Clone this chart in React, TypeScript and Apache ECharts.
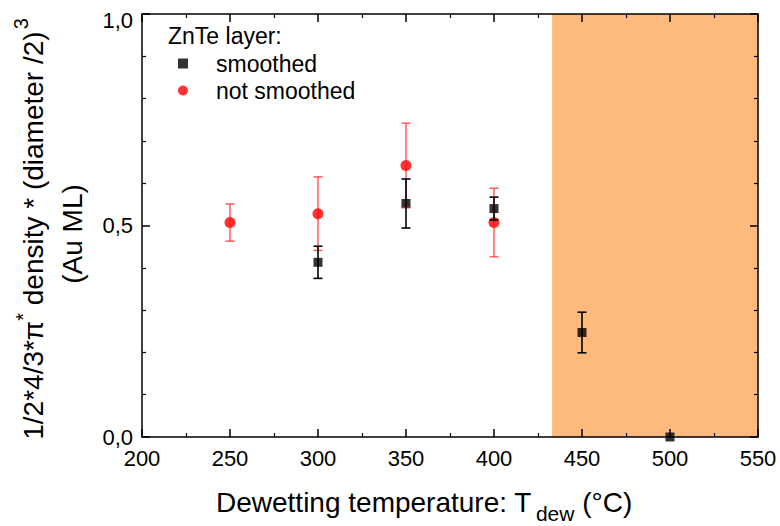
import React, { useEffect, useRef } from 'react';
import * as echarts from 'echarts';

// ---- data ----
const smoothedX = [300, 350, 400, 450, 500];
const smoothedY = [0.413, 0.552, 0.54, 0.247, 0.0];
const smoothedErr = [0.038, 0.058, 0.027, 0.048, 0];

const notSmoothedX = [250, 300, 350, 400];
const notSmoothedY = [0.507, 0.528, 0.642, 0.507];
const notSmoothedErr = [0.044, 0.087, 0.1, 0.081];

const shadedFrom = 433;
const shadedTo = 550;

const xMin = 200, xMax = 550, xInterval = 50;
const yMin = 0, yMax = 1, yInterval = 0.5;

const legendTitle = 'ZnTe layer:';
const seriesNames = ['smoothed', 'not smoothed'];

const FONT = '"Liberation Sans", Arial, Helvetica, sans-serif';

function textWidth(t: string, size: number): number {
  const c = document.createElement('canvas').getContext('2d');
  if (!c) return t.length * size * 0.55;
  c.font = `${size}px "Liberation Sans", Arial, sans-serif`;
  return c.measureText(t).width;
}

function errRender(color: string, lw: number) {
  return (params: any, api: any) => {
    const x = api.value(0), lo = api.value(1), hi = api.value(2);
    if (hi === lo) return { type: 'group', children: [] };
    const a = api.coord([x, hi]);
    const b = api.coord([x, lo]);
    const hw = 4.5;
    const st = { stroke: color, lineWidth: lw };
    return {
      type: 'group',
      children: [
        { type: 'line', shape: { x1: a[0], y1: a[1], x2: b[0], y2: b[1] }, style: st },
        { type: 'line', shape: { x1: a[0] - hw, y1: a[1], x2: a[0] + hw, y2: a[1] }, style: st },
        { type: 'line', shape: { x1: b[0] - hw, y1: b[1], x2: b[0] + hw, y2: b[1] }, style: st },
      ],
    };
  };
}

export default function App() {
  const ref = useRef<HTMLDivElement>(null);
  useEffect(() => {
    if (!ref.current) return;
    const chart = echarts.init(ref.current, undefined, { renderer: 'svg' });

    const axisCommon = {
      type: 'value' as const,
      axisLine: { show: true, onZero: false, lineStyle: { color: '#000', width: 1.5 } },
      axisTick: { show: true, inside: true, length: 8, lineStyle: { color: '#000', width: 1.5 } },
      minorTick: { show: true, length: 4, lineStyle: { color: '#000', width: 1.2 } },
      splitLine: { show: false },
      minorSplitLine: { show: false },
      z: 10,
    };

    // x-axis title pieces
    const xs = 28, xsSub = 21;
    const xT1 = 'Dewetting temperature: T';
    const xT2 = 'dew';
    const xT3 = ' (°C)';
    const xLeft = 216;
    const xBase = 512;
    const w1 = textWidth(xT1, xs);
    const w2 = textWidth(xT2, xsSub);

    // y-axis title pieces
    const ys = 28, ysSup = 20;
    const yA = '1/2*4/3*π';
    const yB = '*';
    const yC = ' density * (diameter /2)';
    const yD = '3';
    const wA = textWidth(yA, ys), wB = textWidth(yB, ysSup), wC = textWidth(yC, ys), wD = textWidth(yD, ysSup);
    const wTot = wA + wB + wC + wD + 2;
    const y0 = -wTot / 2;

    const mid = (base: number, size: number) => base - 0.35 * size;
    const txt = (x: number, base: number, text: string, size: number) => ({
      type: 'text', x, y: mid(base, size),
      style: { text, fontSize: size, fontFamily: FONT, fill: '#000', align: 'left', verticalAlign: 'middle' },
    });

    const option: any = {
      animation: false,
      backgroundColor: '#fff',
      grid: { left: 142, right: 22, top: 14, bottom: 89, containLabel: false },
      xAxis: [
        {
          ...axisCommon, position: 'bottom', min: xMin, max: xMax, interval: xInterval,
          minorTick: { ...axisCommon.minorTick, splitNumber: 2 },
          axisLabel: { show: true, fontSize: 22, fontFamily: FONT, color: '#000', margin: 10 },
        },
        {
          ...axisCommon, position: 'top', min: xMin, max: xMax, interval: xInterval,
          minorTick: { ...axisCommon.minorTick, splitNumber: 2 },
          axisLabel: { show: false },
        },
      ],
      yAxis: [
        {
          ...axisCommon, position: 'left', min: yMin, max: yMax, interval: yInterval,
          minorTick: { ...axisCommon.minorTick, splitNumber: 5 },
          axisLabel: {
            show: true, fontSize: 22, fontFamily: FONT, color: '#000', margin: 9,
            formatter: (v: number) => {
              const s = v.toFixed(1).replace('.', ',');
              return v === yMax ? `{t|${s}}` : `{n|${s}}`;
            },
            rich: {
              t: { fontSize: 22, fontFamily: FONT, color: '#000', padding: [12, 0, 0, 0] },
              n: { fontSize: 22, fontFamily: FONT, color: '#000' },
            },
          },
        },
        {
          ...axisCommon, position: 'right', min: yMin, max: yMax, interval: yInterval,
          minorTick: { ...axisCommon.minorTick, splitNumber: 5 },
          axisLabel: { show: false },
        },
      ],
      legend: {
        show: true,
        orient: 'vertical',
        left: 173,
        top: 47,
        itemWidth: 10,
        itemHeight: 10,
        itemGap: 4,
        data: [
          { name: seriesNames[0], icon: 'rect' },
          { name: seriesNames[1], icon: 'circle' },
        ],
        textStyle: { fontSize: 23, fontFamily: FONT, color: '#000', padding: [0, 0, 0, 23] },
        selectedMode: false,
      },
      series: [
        {
          type: 'custom', name: 'shade', silent: true, z: 0,
          data: [[shadedFrom, shadedTo]],
          encode: { x: [0, 1] },
          renderItem: (params: any, api: any) => {
            const p0 = api.coord([api.value(0), yMax]);
            const p1 = api.coord([api.value(1), yMin]);
            return { type: 'rect', shape: { x: p0[0], y: p0[1], width: p1[0] - p0[0], height: p1[1] - p0[1] }, style: { fill: '#fdba7c' } };
          },
        },
        {
          type: 'scatter', name: seriesNames[0], z: 2,
          symbol: 'rect', symbolSize: 9,
          itemStyle: { color: '#000' },
          data: smoothedX.map((x, i) => [x, smoothedY[i]]),
        },
        {
          type: 'custom', name: 'errRed', silent: true, z: 3,
          data: notSmoothedX.map((x, i) => [x, notSmoothedY[i] - notSmoothedErr[i], notSmoothedY[i] + notSmoothedErr[i]]),
          encode: { x: 0, y: [1, 2] },
          renderItem: errRender('rgba(255,40,40,0.75)', 1.5),
        },
        {
          type: 'scatter', name: seriesNames[1], z: 4,
          symbol: 'circle', symbolSize: 11,
          itemStyle: { color: '#ff0000' },
          data: notSmoothedX.map((x, i) => [x, notSmoothedY[i]]),
        },
        {
          type: 'custom', name: 'errBlack', silent: true, z: 5,
          data: smoothedX.map((x, i) => [x, smoothedY[i] - smoothedErr[i], smoothedY[i] + smoothedErr[i]]),
          encode: { x: 0, y: [1, 2] },
          renderItem: errRender('#000', 1.6),
        },
      ],
      graphic: [
        // legend title
        txt(168, 44, legendTitle, 23),
        // annotations
        txt(568, 47, 't', 24), txt(583, 56, 'dew', 18), txt(622, 47, '= 5 min', 24),
        txt(569, 80, 't', 24), txt(584, 89, 'Au', 18), txt(622, 80, '= 50s', 24),
        txt(566, 114, 'T', 24), txt(589, 124, 'Au', 18), txt(622, 114, '= 1100°C', 24),
        // x-axis title
        txt(xLeft, xBase, xT1, xs),
        txt(xLeft + w1 + 4, xBase + 9, xT2, xsSub),
        txt(xLeft + w1 + 4 + w2, xBase, xT3, xs),
        // y-axis title, rotated
        {
          type: 'group', x: 33, y: 229, rotation: Math.PI / 2,
          children: [
            { type: 'text', x: y0, y: 0, style: { text: yA, fontSize: ys, fontFamily: FONT, fill: '#000', align: 'left', verticalAlign: 'middle' } },
            { type: 'text', x: y0 + wA, y: -10, style: { text: yB, fontSize: ysSup, fontFamily: FONT, fill: '#000', align: 'left', verticalAlign: 'middle' } },
            { type: 'text', x: y0 + wA + wB, y: 0, style: { text: yC, fontSize: ys, fontFamily: FONT, fill: '#000', align: 'left', verticalAlign: 'middle' } },
            { type: 'text', x: y0 + wA + wB + wC + 2, y: -12, style: { text: yD, fontSize: ysSup, fontFamily: FONT, fill: '#000', align: 'left', verticalAlign: 'middle' } },
          ],
        },
        {
          type: 'text', x: 72, y: 234, rotation: Math.PI / 2,
          style: { text: '(Au ML)', fontSize: ys, fontFamily: FONT, fill: '#000', align: 'center', verticalAlign: 'middle' },
        },
      ],
    };
    chart.setOption(option);
    return () => chart.dispose();
  }, []);
  return <div ref={ref} style={{ position: 'fixed', left: 0, top: 0, width: 780, height: 526 }} />;
}
